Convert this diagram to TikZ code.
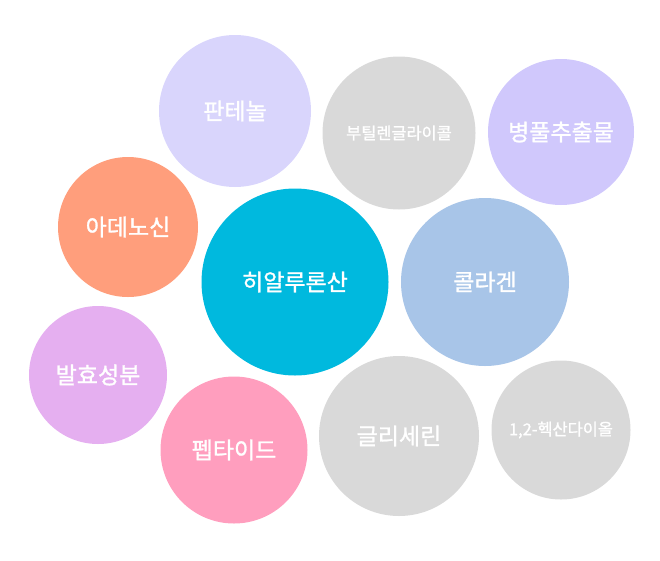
\documentclass[tikz,border=0pt]{standalone}
\usepackage{fontspec}
\newfontfamily\krfont[FakeBold=1.2]{Noto Sans CJK KR}
\usetikzlibrary{positioning}

\definecolor{panthenol}{HTML}{D9D5FC}
\definecolor{greyball}{HTML}{D9D9D9}
\definecolor{centella}{HTML}{D0C8FC}
\definecolor{adenosine}{HTML}{FF9E7C}
\definecolor{hyaluron}{HTML}{00B9DE}
\definecolor{collagen}{HTML}{A8C5E8}
\definecolor{ferment}{HTML}{E5AFF0}
\definecolor{peptide}{HTML}{FF9EBE}

\begin{document}
\begin{tikzpicture}[
	x=1pt, y=-1pt,
	font=\krfont\fontsize{23}{27}\selectfont,
	bubble/.style={
		circle,
		draw=none,
		inner sep=0pt,
		text=white,
		align=center,
	},
	smalltxt/.style={font=\krfont\fontsize{16.4}{20}\selectfont},
]
\useasboundingbox (0,0) rectangle (660,560);

% Bubbles, top row
\node[bubble, fill=panthenol, minimum size=152pt] (panthenol) at (235,111) {판테놀};
\node[bubble, fill=greyball, minimum size=153pt, smalltxt] (butylene) at (399,133) {부틸렌글라이콜};
\node[bubble, fill=centella, minimum size=146pt] (centella) at (561,132) {병풀추출물};

% Middle row
\node[bubble, fill=adenosine, minimum size=140pt] (adenosine) at (128,227) {아데노신};
\node[bubble, fill=hyaluron, minimum size=187pt] (hyaluron) at (295,282) {히알루론산};
\node[bubble, fill=collagen, minimum size=168pt] (collagen) at (485,282) {콜라겐};

% Bottom row
\node[bubble, fill=ferment, minimum size=138pt] (ferment) at (98,375) {발효성분};
\node[bubble, fill=peptide, minimum size=147pt] (peptide) at (234,450) {펩타이드};
\node[bubble, fill=greyball, minimum size=160pt] (glycerin) at (399,436) {글리세린};
\node[bubble, fill=greyball, minimum size=139pt, smalltxt] (hexanediol) at (561,430) {1,2-헥산다이올};

\end{tikzpicture}
\end{document}
